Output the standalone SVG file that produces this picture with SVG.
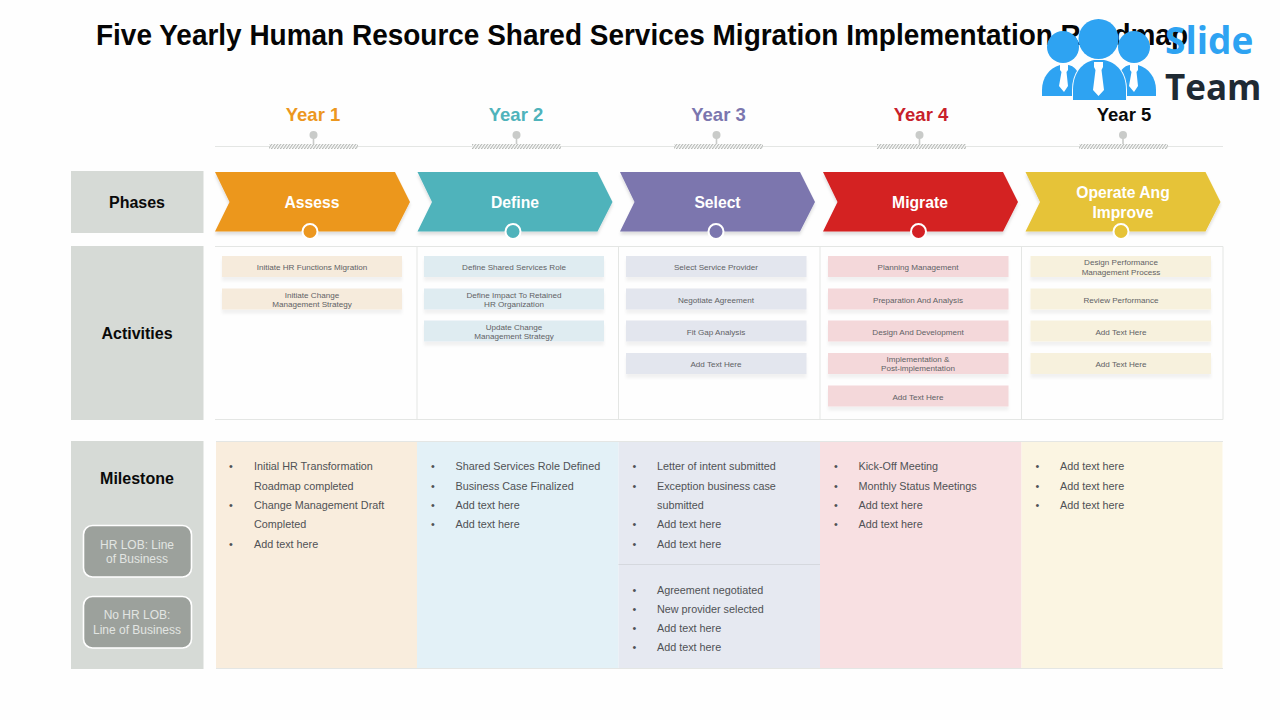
<svg xmlns="http://www.w3.org/2000/svg" width="1280" height="720" viewBox="0 0 1280 720">
<style>
text{font-family:"Liberation Sans",Arial,sans-serif}
.h{font-weight:700;font-size:16px;fill:#0a0a0a;text-anchor:middle}
.y{font-weight:700;font-size:18.500px;text-anchor:middle}
.p{font-weight:700;font-size:15.700px;fill:#fff;text-anchor:middle}
.a{font-size:8.100px;fill:#5f6265;text-anchor:middle}
.m{font-size:10.800px;fill:#505255}
.l{font-size:12px;fill:#e2e5e2;text-anchor:middle}
.side{fill:#d6dad6}
.lob{fill:#9ca19c;stroke:#fff;stroke-width:1.6}
.grid{stroke:#e4e6e4;stroke-width:1;fill:none}
.pin{fill:#c9cbc9}
.tie{fill:#fff}
.logo{fill:#2ea3f2}
.brand{font-family:"Open Sans",sans-serif;font-weight:700}
.chev{filter:url(#soft)}
.card rect{filter:url(#faint)}
</style>
<defs>
<filter id="soft" x="-5%" y="-20%" width="110%" height="150%"><feDropShadow dx="0" dy="3" stdDeviation="1.500" flood-color="#000" flood-opacity=".13"/></filter>
<filter id="faint" x="-5%" y="-20%" width="110%" height="170%"><feDropShadow dx="0" dy="4" stdDeviation="1.500" flood-color="#000" flood-opacity=".05"/></filter>
<pattern id="hatch" width="3" height="6" patternUnits="userSpaceOnUse" patternTransform="skewX(-35)">
<rect width="3" height="6" fill="#fefefe"/><rect width="1.400" height="6" fill="#b5b8b5"/>
</pattern>
<path id="chev" d="M0 0H180L195 30 180 59.500H0L14.500 30Z"/>
</defs>
<rect width="1280" height="720" fill="#fefefe"/>

<g id="title"><text x="96" y="45" font-size="29" font-weight="700" fill="#050505" textLength="1092" lengthAdjust="spacingAndGlyphs">Five Yearly Human Resource Shared Services Migration Implementation Roadmap</text></g>

<g id="connectors">
<path class="grid" d="M215 146.500H1223"/>
<path class="pin" d="M312.700 134h1.600v12h-1.600zM515.700 134h1.600v12h-1.600zM715.700 134h1.600v12h-1.600zM918.700 134h1.600v12h-1.600zM1122.200 134h1.600v12h-1.600z"/>
<circle class="pin" cx="313.500" cy="135" r="4"/><circle class="pin" cx="516.500" cy="135" r="4"/><circle class="pin" cx="716.500" cy="135" r="4"/><circle class="pin" cx="919.500" cy="135" r="4"/><circle class="pin" cx="1123" cy="135" r="4"/>
<rect x="269" y="144" width="89" height="5" fill="url(#hatch)"/><rect x="472" y="144" width="89" height="5" fill="url(#hatch)"/><rect x="674" y="144" width="89" height="5" fill="url(#hatch)"/><rect x="877" y="144" width="89" height="5" fill="url(#hatch)"/><rect x="1079" y="144" width="89" height="5" fill="url(#hatch)"/>
</g>

<g id="years">
<text class="y" x="313" y="120.500" fill="#ec971f">Year 1</text>
<text class="y" x="516" y="120.500" fill="#4fb3bb">Year 2</text>
<text class="y" x="718.500" y="120.500" fill="#7b76ae">Year 3</text>
<text class="y" x="921" y="120.500" fill="#c8202a">Year 4</text>
<text class="y" x="1124" y="120.500" fill="#0a0a0a">Year 5</text>
</g>

<g id="label-phases"><rect class="side" x="71" y="171" width="132.500" height="62"/><text class="h" x="137" y="207.500">Phases</text></g>
<g id="label-activities"><rect class="side" x="71" y="246" width="132.500" height="174"/><text class="h" x="137" y="339">Activities</text></g>
<g id="label-milestone"><rect class="side" x="71" y="441" width="132.500" height="228"/><text class="h" x="137" y="483.500">Milestone</text>
<rect class="lob" x="83.500" y="525.500" width="108" height="51.500" rx="9"/><text class="l" x="137" y="548.500">HR LOB: Line</text><text class="l" x="137" y="563">of Business</text>
<rect class="lob" x="83.500" y="596.500" width="108" height="51.500" rx="9"/><text class="l" x="137" y="619">No HR LOB:</text><text class="l" x="137" y="634">Line of Business</text></g>

<g id="phase-assess"><use class="chev" href="#chev" x="215" y="172" fill="#ec971f"/><circle cx="310" cy="231.500" r="7.500" fill="#ec971f" stroke="#fff" stroke-width="2"/><text class="p" x="312" y="207.500">Assess</text></g>
<g id="phase-define"><use class="chev" href="#chev" x="417.500" y="172" fill="#4fb3bb"/><circle cx="513" cy="231.500" r="7.500" fill="#4fb3bb" stroke="#fff" stroke-width="2"/><text class="p" x="515" y="207.500">Define</text></g>
<g id="phase-select"><use class="chev" href="#chev" x="620" y="172" fill="#7b76ae"/><circle cx="716" cy="231.500" r="7.500" fill="#7b76ae" stroke="#fff" stroke-width="2"/><text class="p" x="717.500" y="207.500">Select</text></g>
<g id="phase-migrate"><use class="chev" href="#chev" x="823" y="172" fill="#d42024"/><circle cx="918.500" cy="231.500" r="7.500" fill="#d42024" stroke="#fff" stroke-width="2"/><text class="p" x="920" y="207.500">Migrate</text></g>
<g id="phase-operate"><use class="chev" href="#chev" x="1025.500" y="172" fill="#e6c337"/><circle cx="1121" cy="231.500" r="7.500" fill="#e6c337" stroke="#fff" stroke-width="2"/><text class="p" x="1123" y="198">Operate Ang</text><text class="p" x="1123" y="217.500">Improve</text></g>

<g id="activities-frame"><path class="grid" d="M215 246.500H1223V419.500H215M417 246.500V419.500M618.500 246.500V419.500M820 246.500V419.500M1021.500 246.500V419.500"/></g>

<g id="activities-1" class="card" fill="#f6ebdc">
<rect x="222" y="256" width="180" height="21"/><text class="a" x="312" y="270">Initiate HR Functions Migration</text>
<rect x="222" y="288.500" width="180" height="21"/><text class="a" x="312" y="297.500">Initiate Change</text><text class="a" x="312" y="307">Management Strategy</text>
</g>
<g id="activities-2" class="card" fill="#dfecf1">
<rect x="424" y="256" width="180" height="21"/><text class="a" x="514" y="270">Define Shared Services Role</text>
<rect x="424" y="288.500" width="180" height="21"/><text class="a" x="514" y="297.500">Define Impact To Retained</text><text class="a" x="514" y="307">HR Organization</text>
<rect x="424" y="320.500" width="180" height="21"/><text class="a" x="514" y="329.500">Update Change</text><text class="a" x="514" y="339">Management Strategy</text>
</g>
<g id="activities-3" class="card" fill="#e3e6ee">
<rect x="626" y="256" width="180.500" height="21"/><text class="a" x="716" y="270">Select Service Provider</text>
<rect x="626" y="288.500" width="180.500" height="21"/><text class="a" x="716" y="302.500">Negotiate Agreement</text>
<rect x="626" y="320.500" width="180.500" height="21"/><text class="a" x="716" y="334.500">Fit Gap Analysis</text>
<rect x="626" y="353" width="180.500" height="21"/><text class="a" x="716" y="367">Add Text Here</text>
</g>
<g id="activities-4" class="card" fill="#f4d8da">
<rect x="828" y="256" width="180.500" height="21"/><text class="a" x="918" y="270">Planning Management</text>
<rect x="828" y="288.500" width="180.500" height="21"/><text class="a" x="918" y="302.500">Preparation And Analysis</text>
<rect x="828" y="320.500" width="180.500" height="21"/><text class="a" x="918" y="334.500">Design And Development</text>
<rect x="828" y="353" width="180.500" height="21"/><text class="a" x="918" y="361.500">Implementation &amp;</text><text class="a" x="918" y="371">Post-implementation</text>
<rect x="828" y="385.500" width="180.500" height="21"/><text class="a" x="918" y="399.500">Add Text Here</text>
</g>
<g id="activities-5" class="card" fill="#f7f1dd">
<rect x="1030.500" y="256" width="180.500" height="21"/><text class="a" x="1121" y="265">Design Performance</text><text class="a" x="1121" y="274.500">Management Process</text>
<rect x="1030.500" y="288.500" width="180.500" height="21"/><text class="a" x="1121" y="302.500">Review Performance</text>
<rect x="1030.500" y="320.500" width="180.500" height="21"/><text class="a" x="1121" y="334.500">Add Text Here</text>
<rect x="1030.500" y="353" width="180.500" height="21"/><text class="a" x="1121" y="367">Add Text Here</text>
</g>

<g id="milestone-1"><rect x="216" y="442" width="201" height="226" fill="#f9eddd"/>
<g class="m"><text x="229" y="470">•</text><text x="254" y="470">Initial HR Transformation</text><text x="254" y="490">Roadmap completed</text><text x="229" y="509">•</text><text x="254" y="509">Change Management Draft</text><text x="254" y="528">Completed</text><text x="229" y="547.500">•</text><text x="254" y="547.500">Add text here</text></g></g>
<g id="milestone-2"><rect x="417" y="442" width="201.500" height="226" fill="#e3f1f7"/>
<g class="m"><text x="431" y="470">•</text><text x="455.500" y="470">Shared Services Role Defined</text><text x="431" y="490">•</text><text x="455.500" y="490">Business Case Finalized</text><text x="431" y="509">•</text><text x="455.500" y="509">Add text here</text><text x="431" y="528">•</text><text x="455.500" y="528">Add text here</text></g></g>
<g id="milestone-3"><rect x="618.500" y="442" width="201.500" height="226" fill="#e6e9f1"/><path d="M618.500 564.500H820" stroke="#d5d8de" fill="none"/>
<g class="m"><text x="632.500" y="470">•</text><text x="657" y="470">Letter of intent submitted</text><text x="632.500" y="490">•</text><text x="657" y="490">Exception business case</text><text x="657" y="509">submitted</text><text x="632.500" y="528">•</text><text x="657" y="528">Add text here</text><text x="632.500" y="547.500">•</text><text x="657" y="547.500">Add text here</text>
<text x="632.500" y="593.500">•</text><text x="657" y="593.500">Agreement negotiated</text><text x="632.500" y="612.500">•</text><text x="657" y="612.500">New provider selected</text><text x="632.500" y="632">•</text><text x="657" y="632">Add text here</text><text x="632.500" y="651">•</text><text x="657" y="651">Add text here</text></g></g>
<g id="milestone-4"><rect x="820" y="442" width="201.500" height="226" fill="#f8e0e2"/>
<g class="m"><text x="834" y="470">•</text><text x="858.500" y="470">Kick-Off Meeting</text><text x="834" y="490">•</text><text x="858.500" y="490">Monthly Status Meetings</text><text x="834" y="509">•</text><text x="858.500" y="509">Add text here</text><text x="834" y="528">•</text><text x="858.500" y="528">Add text here</text></g></g>
<g id="milestone-5"><rect x="1021.500" y="442" width="201" height="226" fill="#fbf5e2"/>
<g class="m"><text x="1035.500" y="470">•</text><text x="1060" y="470">Add text here</text><text x="1035.500" y="490">•</text><text x="1060" y="490">Add text here</text><text x="1035.500" y="509">•</text><text x="1060" y="509">Add text here</text></g></g>
<path class="grid" d="M216 441.500H1223M216 668.500H1223"/>

<g id="logo">
<g class="logo">
<circle cx="1063" cy="47" r="16"/><circle cx="1134" cy="47" r="16"/>
<path d="M1042 96V90C1042 78 1049 68 1060 65H1068C1076 66 1082 74 1082 96Z"/>
<path d="M1156 96V90C1156 78 1149 68 1138 65H1130C1122 66 1116 74 1116 96Z"/>
<path d="M1073 100V90C1073 72 1083 62 1094 60H1104C1116 62 1126 72 1126 90V100Z" stroke="#fefefe" stroke-width="2" paint-order="stroke"/>
<circle cx="1098.500" cy="39" r="20"/>
</g>
<path class="tie" d="M1094 62H1103V67L1101.500 70 1104 90 1098.500 96 1093 90 1095.500 70 1094 67Z"/>
<path class="tie" d="M1060 65H1068V70L1066.500 72 1068 86 1064 92 1059 86 1061.500 72 1060 70Z"/>
<path class="tie" d="M1130 65H1138V70L1136.500 72 1138 86 1134 92 1129 86 1131.500 72 1130 70Z"/>
<text class="brand" x="1165" y="54" font-size="37" fill="#2ea3f2">Slide</text>
<text class="brand" x="1165" y="100" font-size="35" fill="#1f2a33">Team</text>
</g>
</svg>
